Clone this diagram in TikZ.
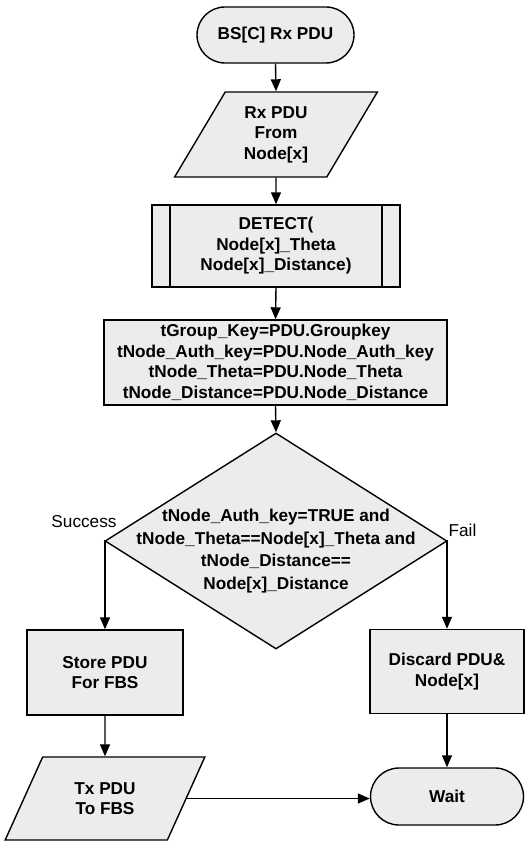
\documentclass[tikz,border=0pt]{standalone}
\usepackage{fontspec}
\setmainfont{Liberation Sans}
\usetikzlibrary{shapes.geometric,shapes.misc,arrows.meta}
\definecolor{boxfill}{RGB}{236,236,236}
\tikzset{
  base/.style={draw, line width=1.4pt, fill=boxfill, align=center, inner sep=0pt,
    font=\bfseries\fontsize{17.2}{20.5}\selectfont},
  terminal/.style={base, rounded rectangle, minimum width=157pt, minimum height=56pt},
  iobox/.style={base, trapezium, trapezium left angle=60.5, trapezium right angle=119.5,
    trapezium stretches=true, minimum width=203pt, minimum height=85pt},
  procbox/.style={base, rectangle},
  subproc/.style={base, rectangle,
    path picture={
      \draw[line width=1.4pt] ([xshift=18pt]path picture bounding box.north west) -- ([xshift=18pt]path picture bounding box.south west);
      \draw[line width=1.4pt] ([xshift=-18pt]path picture bounding box.north east) -- ([xshift=-18pt]path picture bounding box.south east);
    }},
  decision/.style={base, diamond, minimum width=342pt, minimum height=216pt},
  flow/.style={line width=1.4pt, -{Triangle[width=10pt,length=12pt]}},
  branch/.style={font=\fontsize{17.2}{20.5}\selectfont, inner sep=0pt}
}
\begin{document}
\begin{tikzpicture}[x=1pt,y=-1pt]
\useasboundingbox (0,0) rectangle (527,842);

% flow steps
\node[terminal] (start) at (275.5,35) {BS[C] Rx PDU};
\node[iobox] (rx) at (276,134.5) {Rx PDU\\From\\Node[x]};
\node[subproc, minimum width=248pt, minimum height=82pt] (detect) at (276,246)
  {DETECT(\\Node[x]\_Theta\\Node[x]\_Distance)};
\node[procbox, minimum width=343pt, minimum height=85pt] (assign) at (275.5,362.5)
  {tGroup\_Key=PDU.Groupkey\\tNode\_Auth\_key=PDU.Node\_Auth\_key\\tNode\_Theta=PDU.Node\_Theta\\tNode\_Distance=PDU.Node\_Distance};
\node[decision] (cond) at (276,541) {};
\node[font=\bfseries\fontsize{17.2}{22.5}\selectfont, align=center, inner sep=0pt] (condtext) at (276,551)
  {tNode\_Auth\_key=TRUE and\\tNode\_Theta==Node[x]\_Theta and\\tNode\_Distance==\\Node[x]\_Distance};
\node[procbox, minimum width=156pt, minimum height=85pt] (store) at (105,672.5) {Store PDU\\For FBS};
\node[procbox, minimum width=154pt, minimum height=84pt] (discard) at (447,671.5) {Discard PDU\&\\Node[x]};
\node[iobox, minimum width=200pt, minimum height=83pt] (tx) at (105,798.5) {Tx PDU\\To FBS};
\node[terminal, minimum width=153pt, minimum height=57pt] (wait) at (447,796.5) {Wait};

% branch labels
\node[branch] (succ) at (84,522) {Success};
\node[branch] (fail) at (462.5,530) {Fail};

% connectors
\draw[flow] (start.south) -- (rx.north);
\draw[flow] (rx.south) -- (detect.north);
\draw[flow] (detect.south) -- (assign.north);
\draw[flow] (assign.south) -- (cond.north);
\draw[flow] (cond.west) -| (store.north);
\draw[flow] (cond.east) -| (discard.north);
\draw[flow] (store.south) -- (tx.north);
\draw[flow] (discard.south) -- (wait.north);
\draw[flow] (tx.east) -- (tx.east -| wait.west);
\end{tikzpicture}
\end{document}
